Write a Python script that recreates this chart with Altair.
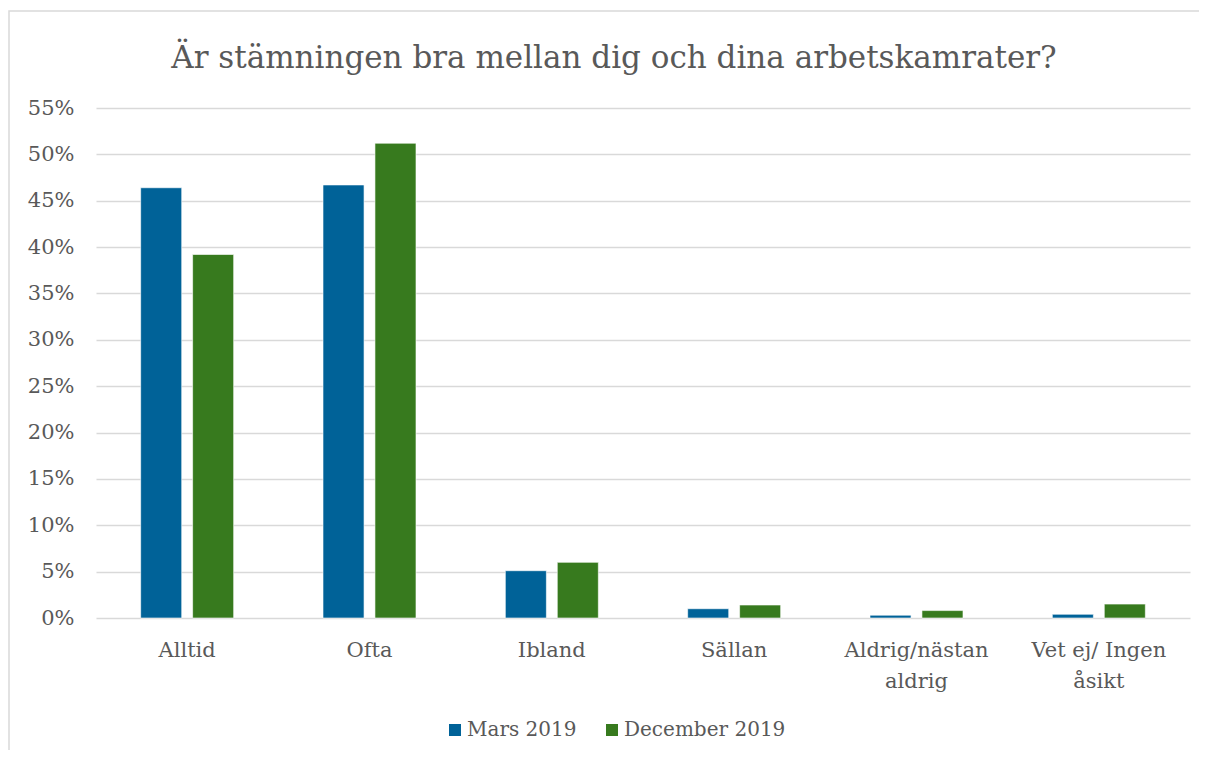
import altair as alt
import pandas as pd

title_text = "Är stämningen bra mellan dig och dina arbetskamrater?"
categories = ["Alltid", "Ofta", "Ibland", "Sällan", "Aldrig/nästan\naldrig", "Vet ej/ Ingen\nåsikt"]
series = ["Mars 2019", "December 2019"]
mars_2019 = [0.464, 0.467, 0.051, 0.010, 0.003, 0.004]
december_2019 = [0.392, 0.512, 0.060, 0.014, 0.008, 0.015]
colors = ["#006298", "#377A1E"]
y_ticks = [i * 0.05 for i in range(12)]

rows = []
for c, m, d in zip(categories, mars_2019, december_2019):
    rows.append({"Kategori": c, "Serie": series[0], "Andel": m})
    rows.append({"Kategori": c, "Serie": series[1], "Andel": d})
df = pd.DataFrame(rows)

FONT = "DejaVu Serif"
TXT = "#595959"
W, H = 1094, 510

bars = alt.Chart(df).mark_bar(stroke="white", strokeWidth=0.6).encode(
    x=alt.X("Kategori:N", sort=categories,
            scale=alt.Scale(paddingInner=0.49, paddingOuter=0.245),
            axis=alt.Axis(title=None, labelAngle=0, ticks=False, domain=False,
                          labelExpr="split(datum.label, '\\n')",
                          labelFont=FONT, labelFontSize=21, labelColor=TXT,
                          labelPadding=21, labelLineHeight=31)),
    xOffset=alt.XOffset("Serie:N", sort=series,
                        scale=alt.Scale(paddingInner=0.21, paddingOuter=0)),
    y=alt.Y("Andel:Q",
            scale=alt.Scale(domain=[0, 0.55], nice=False),
            axis=alt.Axis(title=None, values=y_ticks, format=".0%", ticks=False, domain=False,
                          labelFont=FONT, labelFontSize=21, labelColor=TXT, labelPadding=22,
                          gridColor="#d9d9d9", gridWidth=1.5)),
    color=alt.Color("Serie:N", sort=series,
                    scale=alt.Scale(domain=series, range=colors),
                    legend=alt.Legend(title=None, orient="none", direction="horizontal",
                                      legendX=349, legendY=612,
                                      symbolType="square", symbolSize=144,
                                      symbolStrokeWidth=0, labelLimit=0,
                                      labelFont=FONT, labelFontSize=20, labelColor=TXT,
                                      columnPadding=25, labelOffset=2)),
)

border = alt.Chart(pd.DataFrame({"k": [0]})).mark_rect(
    fill=None, stroke="#d9d9d9", strokeWidth=1.5
).encode(
    x=alt.value(-87), x2=alt.value(1200), y=alt.value(-97), y2=alt.value(700)
)

title = alt.Chart(pd.DataFrame({"t": [title_text]})).mark_text(
    font=FONT, fontSize=31, color=TXT, align="center", baseline="alphabetic"
).encode(
    text="t:N", x=alt.value(518), y=alt.value(-40)
)

chart = alt.layer(border, bars, title).properties(
    width=W, height=H,
    autosize=alt.AutoSizeParams(type="none"),
    padding={"left": 88, "top": 100, "right": 9, "bottom": 132},
).configure(background="white").configure_view(stroke=None)

chart.save("out.html", embed_options={"renderer": "svg", "actions": False})
